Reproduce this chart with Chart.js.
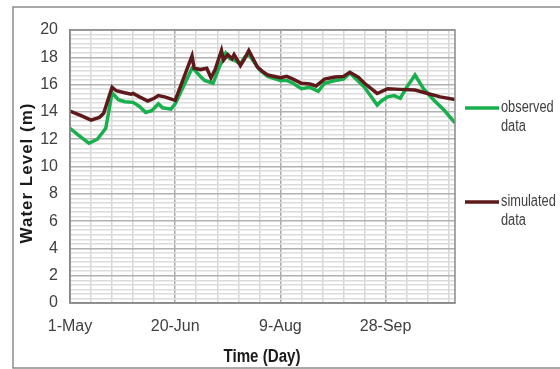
<!DOCTYPE html>
<html>
<head>
<meta charset="utf-8">
<title>Water Level</title>
<script src="https://cdn.jsdelivr.net/npm/chart.js@4.4.1/dist/chart.umd.min.js"></script>
<style>
  html, body { margin: 0; padding: 0; background: #ffffff; }
  #wrap { position: relative; width: 560px; height: 369px; }
</style>
</head>
<body>
<div id="wrap"><canvas id="chart" width="560" height="369"></canvas></div>
<script>
// Days counted from 1 May
const xTickDays = [0, 50, 100, 150];
const xTickLabels = ['1-May', '20-Jun', '9-Aug', '28-Sep'];

// Observed water level (m)
const obsDays = [0, 4, 9, 13, 17, 20, 23, 26, 30, 33, 36, 39, 42, 44, 48, 50, 58, 59, 62, 64, 68, 71, 74, 76, 78, 81, 83, 85, 90, 94, 100, 103, 106, 110, 114, 118, 121, 126, 130, 133, 140, 146, 148, 151, 154, 157, 160, 164, 168, 173, 178, 183];
const obsLevel = [12.8, 12.3, 11.7, 12.0, 12.8, 15.4, 14.9, 14.75, 14.7, 14.4, 13.95, 14.1, 14.6, 14.3, 14.2, 14.6, 17.2, 17.1, 16.6, 16.3, 16.1, 17.3, 18.3, 17.9, 17.8, 17.5, 18.0, 18.2, 17.1, 16.6, 16.3, 16.3, 16.1, 15.7, 15.8, 15.5, 16.1, 16.3, 16.4, 16.85, 15.8, 14.5, 14.8, 15.1, 15.2, 15.0, 15.8, 16.7, 15.7, 14.85, 14.1, 13.2];

// Simulated water level (m)
const simDays = [0, 5, 10, 14, 16, 20, 22, 26, 29, 30, 33, 37, 40, 42, 45, 50, 58, 59, 62, 65, 67, 69, 72, 73, 75, 77, 78, 81, 83, 85, 89, 92, 94, 100, 103, 106, 110, 114, 117, 121, 126, 130, 133, 137, 140, 146, 151, 157, 164, 170, 176, 183];
const simLevel = [14.05, 13.75, 13.4, 13.6, 13.9, 15.8, 15.55, 15.4, 15.3, 15.35, 15.1, 14.8, 15.0, 15.2, 15.1, 14.85, 18.1, 17.2, 17.1, 17.2, 16.5, 17.1, 18.5, 17.8, 18.2, 17.9, 18.2, 17.4, 17.9, 18.5, 17.3, 16.9, 16.7, 16.5, 16.6, 16.4, 16.1, 16.05, 15.9, 16.4, 16.55, 16.6, 16.9, 16.55, 16.1, 15.35, 15.7, 15.65, 15.6, 15.35, 15.1, 14.9];

const GREEN = '#17b04c';
const BROWN = '#5e1a1a';
const SANS = '"Liberation Sans", Arial, sans-serif';

const toPoints = (xs, ys) => xs.map((d, i) => ({ x: d, y: ys[i] }));

// Draws text squeezed horizontally, for a condensed look
function narrowText(ctx, text, x, y, squeeze) {
  ctx.save();
  ctx.translate(x, y);
  ctx.scale(squeeze, 1);
  ctx.fillText(text, 0, 0);
  ctx.restore();
}

// Frame, plot border, axis titles and the side legend
const decorations = {
  id: 'decorations',
  beforeDraw(chart) {
    const ctx = chart.ctx;
    ctx.save();
    ctx.strokeStyle = '#8c8c8c';
    ctx.lineWidth = 1.5;
    ctx.strokeRect(13, 7, 600, 361);
    ctx.restore();
  },
  afterDraw(chart) {
    const ctx = chart.ctx;
    const a = chart.chartArea;
    ctx.save();
    ctx.strokeStyle = '#8a8a8a';
    ctx.lineWidth = 1.5;
    ctx.strokeRect(a.left, a.top, a.right - a.left, a.bottom - a.top);

    // Axis titles
    ctx.fillStyle = '#1a1a1a';
    ctx.font = 'bold 18px ' + SANS;
    ctx.textAlign = 'center';
    ctx.textBaseline = 'middle';
    narrowText(ctx, 'Time (Day)', 262, 357, 0.84);

    ctx.save();
    ctx.translate(27, 173);
    ctx.rotate(-Math.PI / 2);
    ctx.font = 'bold 17px ' + SANS;
    ctx.letterSpacing = '1px';
    ctx.fillText('Water Level (m)', 0, 0);
    ctx.restore();

    // Legend
    const items = [
      { color: GREEN, lines: ['observed', 'data'], y: 108 },
      { color: BROWN, lines: ['simulated', 'data'], y: 202 }
    ];
    ctx.font = '16px ' + SANS;
    ctx.textAlign = 'left';
    ctx.textBaseline = 'middle';
    items.forEach(it => {
      ctx.strokeStyle = it.color;
      ctx.lineWidth = 3.5;
      ctx.beginPath();
      ctx.moveTo(465, it.y);
      ctx.lineTo(499, it.y);
      ctx.stroke();
      ctx.fillStyle = '#404040';
      it.lines.forEach((t, i) => narrowText(ctx, t, 501, it.y + i * 19, 0.8));
    });
    ctx.restore();
  }
};

new Chart(document.getElementById('chart'), {
  type: 'line',
  data: {
    datasets: [
      {
        label: 'simulated data',
        data: toPoints(simDays, simLevel),
        borderColor: BROWN,
        backgroundColor: BROWN,
        borderWidth: 3.5,
        pointRadius: 0,
        tension: 0,
        order: 0
      },
      {
        label: 'observed data',
        data: toPoints(obsDays, obsLevel),
        borderColor: GREEN,
        backgroundColor: GREEN,
        borderWidth: 3.5,
        pointRadius: 0,
        tension: 0,
        order: 1
      }
    ]
  },
  options: {
    responsive: false,
    animation: false,
    events: [],
    layout: { padding: { left: 0, top: 30, right: 105, bottom: 0 } },
    plugins: {
      legend: { display: false },
      tooltip: { enabled: false },
      title: { display: false }
    },
    scales: {
      x: {
        type: 'linear',
        min: 0,
        max: 183,
        afterBuildTicks(scale) {
          const t = [];
          for (let d = 0; d <= 180; d += 10) t.push({ value: d });
          scale.ticks = t;
        },
        afterFit(scale) { scale.height = 66; },
        border: { display: true, color: '#8a8a8a', width: 1.5 },
        grid: {
          drawTicks: false,
          lineWidth: 1.5,
          color: ctx => (ctx.tick && ctx.tick.value % 50 === 0) ? '#ababab' : '#d6d6d6'
        },
        ticks: {
          autoSkip: false,
          maxRotation: 0,
          padding: 14,
          color: '#404040',
          font: { family: SANS, size: 16 },
          callback: v => {
            const k = xTickDays.indexOf(v);
            return k >= 0 ? xTickLabels[k] : '';
          }
        }
      },
      y: {
        min: 0,
        max: 20,
        afterBuildTicks(scale) {
          const t = [];
          for (let i = 0; i <= 60; i++) t.push({ value: i / 3 });
          scale.ticks = t;
        },
        afterFit(scale) { scale.width = 70; },
        border: { display: true, color: '#8a8a8a', width: 1.5 },
        grid: {
          drawTicks: false,
          lineWidth: 1.5,
          color: ctx => (ctx.index % 6 === 0) ? '#b0b0b0' : '#dcdcdc'
        },
        ticks: {
          autoSkip: false,
          padding: 12,
          color: '#404040',
          font: { family: SANS, size: 16 },
          callback: (v, i) => (i % 6 === 0) ? String(Math.round(v)) : ''
        }
      }
    }
  },
  plugins: [decorations]
});
</script>
</body>
</html>
